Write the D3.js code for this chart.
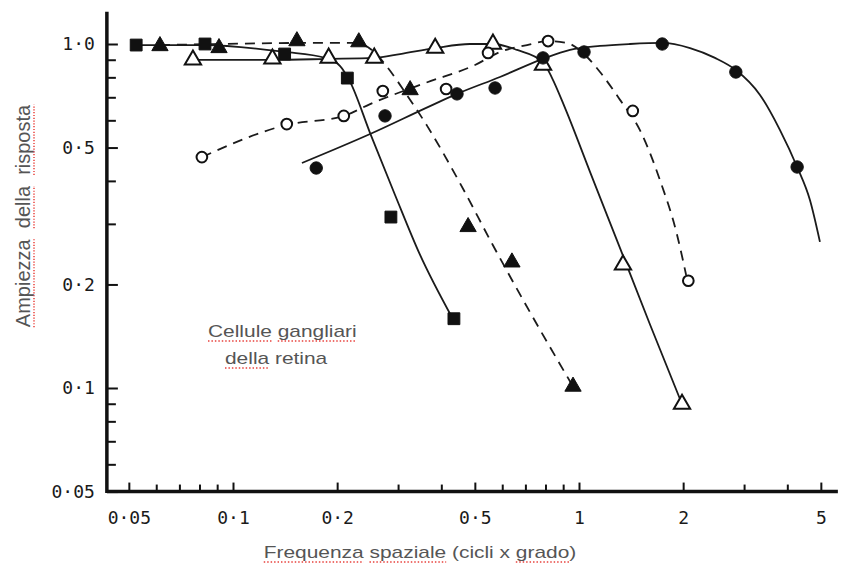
<!DOCTYPE html>
<html>
<head>
<meta charset="utf-8">
<script src="https://cdn.jsdelivr.net/npm/d3@7"></script>
<style>
  body { margin: 0; background: #fff; }
  .tick text { font-family: "DejaVu Sans Mono", monospace; font-size: 18px; fill: #1a1a1a; }
  .title { font-family: "Liberation Sans", Arial, sans-serif; fill: #555; }
</style>
</head>
<body>
<svg id="chart" width="843" height="571"></svg>
<script>
// tick values / labels
var xTickValues = [0.05, 0.1, 0.2, 0.5, 1, 2, 5];
var xTickLabels = ['0·05', '0·1', '0·2', '0·5', '1', '2', '5'];
var xMinorTicks = [0.06, 0.07, 0.08, 0.09, 0.3, 0.4, 0.6, 0.7, 0.8, 0.9, 3, 4];
var yTickValues = [0.05, 0.1, 0.2, 0.5, 1];
var yTickLabels = ['0·05', '0·1', '0·2', '0·5', '1·0'];
var yMinorTicks = [0.06, 0.07, 0.08, 0.09, 0.3, 0.4, 0.6, 0.7, 0.8, 0.9];
var xExtent = [0.0432, 5.6];
var yExtent = [0.05, 1.24];

// filled squares (solid)
var squaresPts = [[0.0525, 0.993], [0.083, 1.0], [0.141, 0.935], [0.214, 0.796], [0.286, 0.314], [0.435, 0.159]];
var squaresCurve = [[0.0525, 0.993], [0.083, 0.993], [0.141, 0.948], [0.1845, 0.911], [0.204, 0.863], [0.218, 0.776],
  [0.249, 0.551], [0.294, 0.364], [0.347, 0.244], [0.430, 0.160]];

// filled triangles (dashed)
var triPts = [[0.0615, 0.987], [0.0911, 0.974], [0.153, 1.02], [0.231, 1.013], [0.325, 0.735], [0.478, 0.294], [0.640, 0.232], [0.961, 0.101]];
var triCurve = [[0.0615, 0.993], [0.0918, 1.0], [0.156, 1.007], [0.225, 1.007], [0.252, 0.961], [0.279, 0.857],
  [0.318, 0.711], [0.364, 0.578], [0.453, 0.394], [0.564, 0.260], [0.722, 0.166], [0.961, 0.101]];

// open triangles (solid)
var openTriPts = [[0.0766, 0.899], [0.130, 0.905], [0.189, 0.911], [0.256, 0.911], [0.384, 0.973], [0.564, 1.0], [0.787, 0.869], [1.34, 0.228], [1.985, 0.0898]];
var openTriCurve = [[0.0766, 0.899], [0.130, 0.899], [0.189, 0.905], [0.256, 0.911], [0.304, 0.935], [0.384, 0.973],
  [0.484, 1.0], [0.564, 1.0], [0.662, 0.961], [0.787, 0.886], [0.836, 0.796], [0.911, 0.652], [1.076, 0.425],
  [1.314, 0.255], [1.604, 0.153], [1.985, 0.0898]];

// open circles (dashed)
var openCirPts = [[0.0813, 0.469], [0.143, 0.585], [0.209, 0.618], [0.271, 0.730], [0.413, 0.740], [0.546, 0.942], [0.814, 1.02], [1.43, 0.639], [2.07, 0.205]];
var openCirCurve = [[0.0813, 0.469], [0.143, 0.582], [0.209, 0.618], [0.249, 0.669], [0.359, 0.770], [0.5006, 0.869],
  [0.591, 0.948], [0.708, 0.993], [0.814, 1.02], [0.923, 1.007], [1.041, 0.929], [1.150, 0.829], [1.314, 0.688],
  [1.50, 0.562], [1.714, 0.402], [1.92, 0.279], [2.04, 0.213]];

// filled circles (solid)
var dotPts = [[0.174, 0.436], [0.275, 0.618], [0.444, 0.716], [0.572, 0.745], [0.787, 0.911], [1.034, 0.948], [1.74, 1.0], [2.84, 0.829], [4.27, 0.439]];
var dotCurve = [[0.1582, 0.451], [0.249, 0.5475], [0.371, 0.660], [0.444, 0.716], [0.591, 0.802], [0.787, 0.905],
  [0.942, 0.961], [1.150, 0.987], [1.404, 1.0], [1.74, 1.007], [2.094, 0.973], [2.472, 0.911], [2.84, 0.840],
  [3.335, 0.711], [3.81, 0.562], [4.27, 0.439], [4.65, 0.352], [4.97, 0.266]];

var series = [
  { pts: squaresPts, curve: squaresCurve, symbol: d3.symbolSquare, size: 140, open: false, dashed: false },
  { pts: triPts, curve: triCurve, symbol: d3.symbolTriangle, size: 115, open: false, dashed: true },
  { pts: openTriPts, curve: openTriCurve, symbol: d3.symbolTriangle, size: 115, open: true, dashed: false },
  { pts: openCirPts, curve: openCirCurve, symbol: d3.symbolCircle, size: 90, open: true, dashed: true },
  { pts: dotPts, curve: dotCurve, symbol: d3.symbolCircle, size: 120, open: false, dashed: false }
];

var svg = d3.select('#chart');

// same log spacing on both axes (about 346px per decade)
var x = d3.scaleLog().domain([0.1, 1]).range([233, 579]);
var y = d3.scaleLog().domain([0.1, 1]).range([388, 44]);

var x0 = x(xExtent[0]), y0 = y(yExtent[0]);

// y axis
var yAxis = svg.append('g').attr('transform', 'translate(' + x0 + ',0)')
  .call(d3.axisLeft(y).tickValues(yTickValues)
    .tickFormat(function (d, i) { return yTickLabels[i]; })
    .tickSizeInner(-11).tickSizeOuter(0).tickPadding(12));
svg.append('g').attr('transform', 'translate(' + x0 + ',0)')
  .call(d3.axisLeft(y).tickValues(yMinorTicks).tickFormat('').tickSizeInner(-9).tickSizeOuter(0));

// x axis
svg.append('g').attr('transform', 'translate(0,' + y0 + ')')
  .call(d3.axisBottom(x).tickValues(xTickValues)
    .tickFormat(function (d, i) { return xTickLabels[i]; })
    .tickSizeInner(-9).tickSizeOuter(0).tickPadding(20));
svg.append('g').attr('transform', 'translate(0,' + y0 + ')')
  .call(d3.axisBottom(x).tickValues(xMinorTicks).tickFormat('').tickSizeInner(-7).tickSizeOuter(0));

svg.selectAll('.domain').remove();
svg.selectAll('.tick line').attr('stroke', '#111').attr('stroke-width', 2);

svg.append('line').attr('x1', x0).attr('x2', x0).attr('y1', y(yExtent[1])).attr('y2', y0 + 1.5)
  .attr('stroke', '#111').attr('stroke-width', 3.5);
svg.append('line').attr('x1', x0).attr('x2', x(xExtent[1])).attr('y1', y0).attr('y2', y0)
  .attr('stroke', '#111').attr('stroke-width', 3.5);

// curves
var line = d3.line()
  .x(function (d) { return x(d[0]); })
  .y(function (d) { return y(d[1]); })
  .curve(d3.curveMonotoneX);

series.forEach(function (s) {
  svg.append('path').datum(s.curve)
    .attr('d', line)
    .attr('fill', 'none')
    .attr('stroke', '#1b1b1b')
    .attr('stroke-width', 1.8)
    .attr('stroke-dasharray', s.dashed ? '10,7' : null);
});

// markers
series.forEach(function (s) {
  svg.append('g').selectAll('path').data(s.pts).enter().append('path')
    .attr('transform', function (d) { return 'translate(' + x(d[0]) + ',' + y(d[1]) + ')'; })
    .attr('d', d3.symbol().type(s.symbol).size(s.size))
    .attr('fill', s.open ? '#fff' : '#111')
    .attr('stroke', '#111')
    .attr('stroke-width', s.open ? 2 : 1);
});

// red dotted spell-check underline under some words
function spellUnderline(g, textSel, words) {
  var node = textSel.node();
  var str = node.textContent;
  words.forEach(function (w) {
    var i = str.indexOf(w);
    if (i < 0) return;
    var a = node.getExtentOfChar(i);
    var b = node.getExtentOfChar(i + w.length - 1);
    g.append('line')
      .attr('x1', a.x).attr('x2', b.x + b.width)
      .attr('y1', 4).attr('y2', 4)
      .attr('stroke', '#e8413c').attr('stroke-width', 1.5)
      .attr('stroke-dasharray', '1.2,1.6');
  });
}

// y title
var gy = svg.append('g').attr('transform', 'translate(30,216) rotate(-90)');
var ty = gy.append('text').attr('class', 'title').attr('text-anchor', 'middle')
  .style('font-size', '20px').style('white-space', 'pre')
  .text('Ampiezza  della  risposta');
spellUnderline(gy, ty, ['Ampiezza', 'della', 'risposta']);

// x title
var gx = svg.append('g').attr('transform', 'translate(420,558) scale(1.23,1)');
var tx = gx.append('text').attr('class', 'title').attr('text-anchor', 'middle')
  .style('font-size', '17px')
  .text('Frequenza spaziale (cicli x grado)');
spellUnderline(gx, tx, ['Frequenza', 'spaziale', 'grado']);

// annotation
var ga = svg.append('g').attr('transform', 'translate(208,337) scale(1.23,1)');
var ta = ga.append('text').attr('class', 'title').style('font-size', '17px').text('Cellule gangliari');
spellUnderline(ga, ta, ['Cellule', 'gangliari']);
var gb = svg.append('g').attr('transform', 'translate(225,364) scale(1.23,1)');
var tb = gb.append('text').attr('class', 'title').style('font-size', '17px').text('della retina');
spellUnderline(gb, tb, ['della']);
</script>
</body>
</html>
